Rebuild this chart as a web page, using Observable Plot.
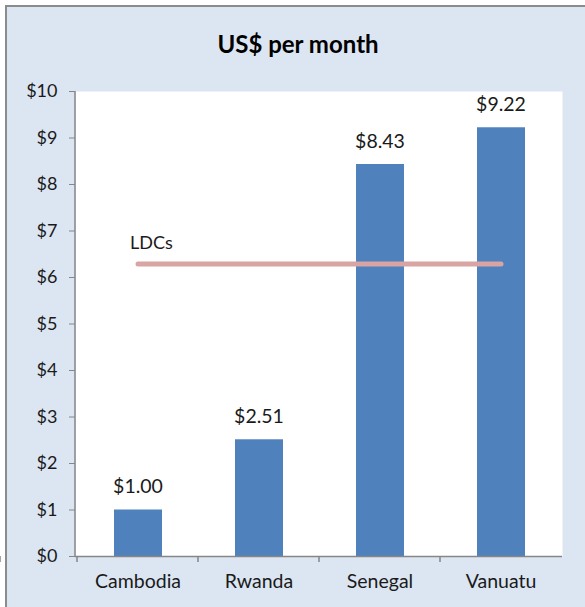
<!DOCTYPE html>
<html>
<head>
<meta charset="utf-8">
<script src="https://cdn.jsdelivr.net/npm/d3@7"></script>
<script src="https://cdn.jsdelivr.net/npm/@observablehq/plot@0.6"></script>
<style>
  html, body { margin: 0; padding: 0; background: #ffffff; overflow: hidden; }
  #box {
    position: absolute; left: 5px; top: 5px; width: 600px; height: 620px;
    background: #dce6f2; border: 2px solid #8c8c8c; box-sizing: border-box;
  }
  #title {
    position: absolute; left: 0; width: 596px; top: 29px; text-align: center;
    font-family: Lato, "Open Sans", sans-serif; font-weight: bold; font-size: 24px; color: #000;
  }
  #chart { position: absolute; left: 0; top: 70px; }
</style>
</head>
<body>
<div id="box"></div>
<div id="title">US$ per month</div>
<div id="chart"></div>
<script>
const countries = ["Cambodia", "Rwanda", "Senegal", "Vanuatu"];
const costs = [1.00, 2.51, 8.43, 9.22];
const ldcAverage = 6.29;
const ldcLabel = "LDCs";
const yTicks = [0, 1, 2, 3, 4, 5, 6, 7, 8, 9, 10];

const bars = countries.map((c, i) => ({country: c, cost: costs[i]}));
const ldcLine = [
  {country: countries[0], value: ldcAverage},
  {country: countries[countries.length - 1], value: ldcAverage}
];

const font = "Lato, 'Open Sans', sans-serif";
const axisColor = "#868686";
const textColor = "#1a1a1a";

// tick marks at category boundaries and the y axis line, drawn from the scales
const boundaryTicks = (index, scales, values, dimensions) => {
  const g = d3.create("svg:g");
  const x = scales.x, bw = x.bandwidth;
  const y0 = scales.y(0);
  const pos = countries.map(c => x(c)).concat([x(countries[countries.length - 1]) + bw]);
  for (const p of pos) {
    g.append("line").attr("x1", p).attr("x2", p).attr("y1", y0).attr("y2", y0 + 6)
      .attr("stroke", axisColor).attr("stroke-width", 1.5);
  }
  g.append("line").attr("x1", dimensions.marginLeft).attr("x2", dimensions.marginLeft)
    .attr("y1", dimensions.marginTop).attr("y2", y0)
    .attr("stroke", axisColor).attr("stroke-width", 1.5);
  return g.node();
};

const chart = Plot.plot({
  width: 585,
  height: 537,
  marginLeft: 75,
  marginRight: 23,
  marginTop: 21,
  marginBottom: 51,
  style: {background: "transparent", fontFamily: font, color: textColor},
  x: {domain: countries, padding: 0, label: null},
  y: {domain: [0, 10], label: null},
  marks: [
    Plot.frame({fill: "white", stroke: null}),
    Plot.barY(bars, {x: "country", y: "cost", fill: "#4f81bd", insetLeft: 37, insetRight: 36}),
    Plot.line(ldcLine, {x: "country", y: "value", stroke: "#d9a4a4", strokeWidth: 5, strokeLinecap: "round"}),
    Plot.text([ldcLine[0]], {x: "country", y: "value", text: () => ldcLabel, textAnchor: "start", dx: -8, dy: -21, fontSize: 18, fill: textColor}),
    Plot.text(bars, {x: "country", y: "cost", text: d => "$" + d.cost.toFixed(2), dy: -23, fontSize: 19.5, fill: textColor}),
    Plot.ruleY([0], {stroke: axisColor, strokeWidth: 1.5}),
    Plot.axisY(yTicks, {label: null, tickFormat: d => "$" + d, tickSize: 6, tickPadding: 12, stroke: axisColor, fontSize: 18, fill: textColor}),
    Plot.axisX({label: null, tickSize: 0, tickPadding: 18, fontSize: 19.5, fill: textColor}),
    boundaryTicks
  ]
});

document.getElementById("chart").appendChild(chart);
</script>
</body>
</html>
